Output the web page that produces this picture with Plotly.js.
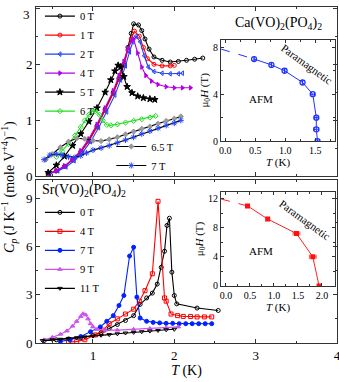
<!DOCTYPE html>
<html>
<head>
<meta charset="utf-8">
<script src="https://cdn.plot.ly/plotly-3.0.1.min.js"></script>
<style>
  html, body { margin: 0; padding: 0; background: #fff; }
  #plotDiv { width: 339px; height: 382px; }
</style>
</head>
<body>
<div id="plotDiv"></div>
<script>
// Ca(VO)2(PO4)2 heat capacity (top panel)
const caT0 = [0.45, 0.55, 0.65, 0.75, 0.85, 0.95, 1.05, 1.15, 1.25, 1.32, 1.38, 1.43, 1.47, 1.5, 1.56, 1.6, 1.64, 1.69, 1.75, 1.85, 1.95, 2.05, 2.15, 2.25, 2.35];
const caC0 = [0.05, 0.1, 0.18, 0.3, 0.44, 0.65, 0.9, 1.2, 1.5, 1.75, 2.0, 2.3, 2.55, 2.72, 2.7, 2.6, 2.45, 2.27, 2.13, 2.07, 2.04, 2.05, 2.07, 2.09, 2.11];
const caT1 = [0.45, 0.55, 0.65, 0.75, 0.85, 0.95, 1.05, 1.15, 1.25, 1.32, 1.38, 1.43, 1.47, 1.51, 1.57, 1.62, 1.67, 1.75, 1.85, 1.95, 2.0];
const caC1 = [0.05, 0.1, 0.18, 0.29, 0.43, 0.63, 0.88, 1.18, 1.48, 1.73, 1.98, 2.25, 2.45, 2.59, 2.5, 2.3, 2.1, 2.0, 1.97, 1.97, 1.98];
const caT2 = [0.47, 0.57, 0.67, 0.77, 0.87, 0.97, 1.07, 1.17, 1.27, 1.34, 1.4, 1.45, 1.49, 1.53, 1.58, 1.63, 1.68, 1.75, 1.85, 1.95, 2.05, 2.1];
const caC2 = [0.05, 0.1, 0.17, 0.28, 0.42, 0.62, 0.87, 1.15, 1.45, 1.72, 1.97, 2.22, 2.4, 2.5, 2.4, 2.15, 1.95, 1.87, 1.84, 1.83, 1.83, 1.84];
const caT4 = [0.45, 0.55, 0.65, 0.75, 0.85, 0.95, 1.05, 1.15, 1.25, 1.32, 1.38, 1.43, 1.48, 1.5, 1.55, 1.6, 1.65, 1.72, 1.8, 1.9, 2.0, 2.1, 2.2];
const caC4 = [0.04, 0.1, 0.19, 0.31, 0.46, 0.67, 0.93, 1.22, 1.53, 1.8, 2.05, 2.28, 2.42, 2.45, 2.2, 1.95, 1.8, 1.7, 1.64, 1.6, 1.58, 1.58, 1.58];
const caT5 = [0.45, 0.55, 0.65, 0.75, 0.85, 0.95, 1.05, 1.15, 1.22, 1.27, 1.31, 1.34, 1.38, 1.42, 1.48, 1.55, 1.62, 1.7, 1.76];
const caC5 = [0.07, 0.2, 0.36, 0.55, 0.76, 0.98, 1.22, 1.5, 1.72, 1.88, 1.98, 1.95, 1.78, 1.6, 1.49, 1.43, 1.4, 1.38, 1.37];
const caT6 = [0.55, 0.62, 0.7, 0.78, 0.85, 0.9, 0.95, 0.99, 1.03, 1.08, 1.12, 1.17, 1.22, 1.3, 1.4, 1.5, 1.6, 1.7, 1.77];
const caC6 = [0.35, 0.45, 0.58, 0.73, 0.88, 1.0, 1.1, 1.16, 1.17, 1.1, 1.0, 0.92, 0.91, 0.93, 0.96, 0.99, 1.02, 1.05, 1.08];
const caT65 = [0.42, 0.5, 0.6, 0.7, 0.8, 0.9, 1.0, 1.1, 1.2, 1.3, 1.4, 1.5, 1.6, 1.7, 1.8, 1.9, 2.0, 2.08];
const caC65 = [0.3, 0.4, 0.52, 0.62, 0.68, 0.67, 0.64, 0.63, 0.66, 0.7, 0.75, 0.8, 0.85, 0.89, 0.94, 0.99, 1.03, 1.07];
const caT7 = [0.4, 0.47, 0.55, 0.62, 0.7, 0.78, 0.85, 0.92, 1.0, 1.1, 1.2, 1.3, 1.4, 1.5, 1.6, 1.7, 1.8, 1.9, 2.0, 2.08];
const caC7 = [0.3, 0.38, 0.4, 0.38, 0.35, 0.34, 0.37, 0.42, 0.47, 0.51, 0.55, 0.6, 0.65, 0.7, 0.76, 0.81, 0.86, 0.91, 0.95, 1.0];
const caTicks = ['0', '1', '2', ''];

// Sr(VO)2(PO4)2 heat capacity (bottom panel)
const srT0 = [0.4, 0.55, 0.7, 0.85, 1.0, 1.1, 1.2, 1.3, 1.4, 1.5, 1.58, 1.66, 1.73, 1.79, 1.84, 1.88, 1.91, 1.94, 1.97, 2.0, 2.03, 2.28, 2.54];
const srC0 = [0.15, 0.2, 0.25, 0.33, 0.48, 0.65, 0.9, 1.15, 1.4, 1.7, 2.4, 2.8, 3.1, 3.66, 4.7, 5.7, 7.3, 7.75, 4.4, 2.95, 2.43, 2.17, 2.02];
const srT4 = [0.7, 0.8, 0.9, 1.03, 1.13, 1.2, 1.3, 1.4, 1.5, 1.57, 1.64, 1.73, 1.8, 1.88, 1.9, 1.96, 2.04, 2.11, 2.2, 2.28, 2.37, 2.46];
const srC4 = [0.05, 0.1, 0.2, 0.5, 0.8, 1.2, 1.5, 1.8, 2.1, 2.6, 3.25, 4.3, 8.8, 2.8, 2.6, 1.8, 1.7, 1.65, 1.65, 1.62, 1.62, 1.62];
const srT7 = [0.6, 0.72, 0.85, 0.97, 1.09, 1.17, 1.25, 1.32, 1.38, 1.45, 1.5, 1.54, 1.58, 1.66, 1.74, 1.82, 1.9, 1.98, 2.06, 2.14, 2.22, 2.3, 2.38, 2.46];
const srC7 = [0.1, 0.2, 0.4, 0.7, 1.0, 1.35, 1.7, 2.33, 2.95, 5.4, 5.95, 2.85, 1.55, 1.35, 1.28, 1.25, 1.22, 1.22, 1.2, 1.2, 1.2, 1.2, 1.2, 1.2];
const srT9 = [0.4, 0.5, 0.6, 0.68, 0.75, 0.8, 0.85, 0.88, 0.91, 0.94, 0.97, 1.0, 1.05, 1.15, 1.3, 1.5, 1.7, 1.9, 2.05];
const srC9 = [0.2, 0.35, 0.55, 0.75, 1.05, 1.35, 1.65, 1.82, 1.75, 1.5, 1.2, 1.0, 0.85, 0.8, 0.8, 0.85, 0.9, 0.95, 1.0];
const srT11 = [0.38, 0.5, 0.6, 0.7, 0.8, 0.9, 1.0, 1.1, 1.2, 1.3, 1.4, 1.5, 1.6, 1.7, 1.8, 1.9, 2.0];
const srC11 = [0.15, 0.2, 0.23, 0.28, 0.33, 0.38, 0.43, 0.48, 0.52, 0.57, 0.62, 0.66, 0.7, 0.74, 0.78, 0.82, 0.85];

// phase diagrams (insets)
const caPdT = [0.48, 0.77, 0.99, 1.29, 1.46, 1.52, 1.52, 1.54];
const caPdH = [7.0, 6.5, 6.0, 5.0, 4.0, 2.0, 1.0, 0.0];
const caPdErr = [0, 0, 0, 0, 0.03, 0.03, 0.04, 0.03];
const caDashT = [-0.07, 0.48];
const caDashH = [7.85, 7.0];
const srPdT = [0.45, 0.87, 1.47, 1.81, 1.94];
const srPdH = [11.0, 9.2, 7.2, 4.0, 0.0];
const srPdErr = [0, 0, 0.07, 0.07, 0];
const srDashT = [-0.1, 0.45];
const srDashH = [11.95, 11.0];

const serif = 'Liberation Serif, Times New Roman, serif';

function curve(x, y, name, color, symbol, legend, xa, ya, lineColor, size) {
    return {
        x: x, y: y, name: name, mode: 'lines+markers', legend: legend,
        xaxis: xa, yaxis: ya,
        line: {color: lineColor || color, width: 1.1},
        marker: {color: color, symbol: symbol, size: size || 4, line: {color: color, width: 1}}
    };
}

const data = [
    curve(caT0, caC0, '0 T', '#000000', 'circle-open', 'legend', 'x', 'y'),
    curve(caT1, caC1, '1 T', '#ff0000', 'circle-open', 'legend', 'x', 'y'),
    curve(caT2, caC2, '2 T', '#1f3fff', 'triangle-left-open', 'legend', 'x', 'y'),
    curve(caT4, caC4, '4 T', '#b400e6', 'triangle-right', 'legend', 'x', 'y'),
    curve(caT5, caC5, '5 T', '#000000', 'star', 'legend', 'x', 'y', null, 5),
    curve(caT6, caC6, '6 T', '#22dd22', 'diamond-open', 'legend', 'x', 'y'),
    curve(caT65, caC65, '6.5 T', '#999999', 'diamond', 'legend2', 'x', 'y', '#000000'),
    curve(caT7, caC7, '7 T', '#2244ff', 'asterisk-open', 'legend2', 'x', 'y', '#000000', 5),
    curve(srT0, srC0, '0 T', '#000000', 'circle-open', 'legend3', 'x2', 'y2'),
    curve(srT4, srC4, '4 T', '#ff0000', 'square-open', 'legend3', 'x2', 'y2'),
    curve(srT7, srC7, '7 T', '#0022ff', 'circle', 'legend3', 'x2', 'y2'),
    curve(srT9, srC9, '9 T', '#cc55ee', 'triangle-up', 'legend3', 'x2', 'y2'),
    curve(srT11, srC11, '11 T', '#000000', 'triangle-down-open', 'legend3', 'x2', 'y2'),
    {x: caDashT, y: caDashH, mode: 'lines', xaxis: 'x3', yaxis: 'y3', showlegend: false,
        line: {color: '#2233ff', width: 1, dash: 'dash'}},
    {x: caPdT, y: caPdH, mode: 'lines+markers', xaxis: 'x3', yaxis: 'y3', showlegend: false,
        line: {color: '#2233ff', width: 1},
        marker: {symbol: 'circle-open', size: 5, color: '#2233ff', line: {width: 1.3}},
        error_x: {type: 'data', array: caPdErr, color: '#2233ff', thickness: 1, width: 2}},
    {x: srDashT, y: srDashH, mode: 'lines', xaxis: 'x4', yaxis: 'y4', showlegend: false,
        line: {color: '#ff2222', width: 1, dash: 'dash'}},
    {x: srPdT, y: srPdH, mode: 'lines+markers', xaxis: 'x4', yaxis: 'y4', showlegend: false,
        line: {color: '#ff2222', width: 1},
        marker: {symbol: 'square', size: 5, color: '#ff1111'},
        error_x: {type: 'data', array: srPdErr, color: '#ff5555', thickness: 1, width: 2}}
];

const frame = {showline: true, mirror: 'allticks', linecolor: '#333', linewidth: 1,
    ticks: 'inside', ticklen: 4, tickcolor: '#333', showgrid: false, zeroline: false,
    ticklabeloverflow: 'allow',
    tickfont: {family: serif, size: 13, color: '#000'}};
const inset = Object.assign({}, frame, {ticklen: 3, tickfont: {family: serif, size: 10, color: '#000'}});
const minorTick = d => ({dtick: d, ticklen: 2, ticks: 'inside', tickcolor: '#333'});

const legendBase = {font: {family: serif, size: 10.5, color: '#000'}, bgcolor: 'rgba(0,0,0,0)',
    tracegroupgap: 0, itemwidth: 30, xanchor: 'left', yanchor: 'top'};

const layout = {
    width: 339, height: 382,
    margin: {l: 36, r: 2, t: 2, b: 39},
    paper_bgcolor: '#fff', plot_bgcolor: 'rgba(0,0,0,0)',
    font: {family: serif, color: '#000'},
    xaxis: Object.assign({}, frame, {domain: [0, 1], range: [0.3, 4.0], anchor: 'y',
        dtick: 1, showticklabels: false, minor: minorTick(0.5)}),
    yaxis: Object.assign({}, frame, {domain: [0.4956, 1], range: [0, 3.02], anchor: 'x',
        tickvals: [0, 1, 2, 3], ticktext: caTicks, minor: minorTick(0.5)}),
    xaxis2: Object.assign({}, frame, {domain: [0, 1], range: [0.3, 4.0], anchor: 'y2',
        dtick: 1, matches: 'x', minor: minorTick(0.5),
        title: {text: '<i>T</i> (K)', font: {family: serif, size: 14}, standoff: 2}}),
    yaxis2: Object.assign({}, frame, {domain: [0, 0.4839], range: [0, 10.1], anchor: 'x2',
        dtick: 3, minor: minorTick(1.5)}),
    xaxis3: Object.assign({}, inset, {domain: [0.615, 0.993], range: [-0.07, 1.83], anchor: 'y3',
        dtick: 0.5, tickformat: '.1f', minor: minorTick(0.25),
        title: {text: '<i>T</i> (K)', font: {family: serif, size: 11}, standoff: 2}}),
    yaxis3: Object.assign({}, inset, {domain: [0.601, 0.903], range: [0, 8.66], anchor: 'x3',
        dtick: 4, minor: minorTick(2),
        title: {text: 'μ<sub>0</sub><i>H</i> (T)', font: {family: serif, size: 11}, standoff: 2}}),
    xaxis4: Object.assign({}, inset, {domain: [0.615, 0.993], range: [-0.1, 2.27], anchor: 'y4',
        dtick: 0.5, tickformat: '.1f', minor: minorTick(0.25),
        title: {text: '<i>T</i> (K)', font: {family: serif, size: 11}, standoff: 2}}),
    yaxis4: Object.assign({}, inset, {domain: [0.170, 0.449], range: [0, 12.9], anchor: 'x4',
        dtick: 4, minor: minorTick(2),
        title: {text: 'μ<sub>0</sub><i>H</i> (T)', font: {family: serif, size: 11}, standoff: 2}}),
    legend: Object.assign({}, legendBase, {x: 0.013, y: 1.016}),
    legend2: Object.assign({}, legendBase, {x: 0.25, y: 0.628}),
    legend3: Object.assign({}, legendBase, {x: 0.013, y: 0.432}),
    annotations: [
        {text: '3', xref: 'paper', yref: 'paper', x: -0.012, y: 0.977, xanchor: 'right',
            yanchor: 'middle', showarrow: false, font: {family: serif, size: 13}},
        {text: '<i>C</i><sub><i>p</i></sub> (J K<sup>−1</sup> (mole V<sup>+4</sup>)<sup>−1</sup>)',
            xref: 'paper', yref: 'paper', x: -0.088, y: 0.463, textangle: -90, showarrow: false,
            xanchor: 'center', yanchor: 'middle', font: {family: serif, size: 14}},
        {text: 'Ca(VO)<sub>2</sub>(PO<sub>4</sub>)<sub>2</sub>', xref: 'paper', yref: 'paper',
            x: 0.805, y: 0.95, xanchor: 'center', yanchor: 'middle', showarrow: false,
            font: {family: serif, size: 14}},
        {text: 'Sr(VO)<sub>2</sub>(PO<sub>4</sub>)<sub>2</sub>', xref: 'paper', yref: 'paper',
            x: 0.16, y: 0.455, xanchor: 'center', yanchor: 'middle', showarrow: false,
            font: {family: serif, size: 14}},
        {text: 'Paramagnetic', xref: 'x3', yref: 'y3', x: 1.36, y: 6.6,
            xanchor: 'center', yanchor: 'middle', textangle: 36, showarrow: false,
            font: {family: serif, size: 11}},
        {text: 'AFM', xref: 'x3', yref: 'y3', x: 0.59, y: 3.6, xanchor: 'center', yanchor: 'middle',
            showarrow: false, font: {family: serif, size: 11}},
        {text: 'Paramagnetic', xref: 'x4', yref: 'y4', x: 1.65, y: 9.1,
            xanchor: 'center', yanchor: 'middle', textangle: 36, showarrow: false,
            font: {family: serif, size: 11}},
        {text: 'AFM', xref: 'x4', yref: 'y4', x: 0.73, y: 4.75, xanchor: 'center', yanchor: 'middle',
            showarrow: false, font: {family: serif, size: 11}}
    ]
};

Plotly.newPlot('plotDiv', data, layout, {staticPlot: true}).catch(error => {
    console.error('Error in plot:', error);
});
</script>
</body>
</html>
